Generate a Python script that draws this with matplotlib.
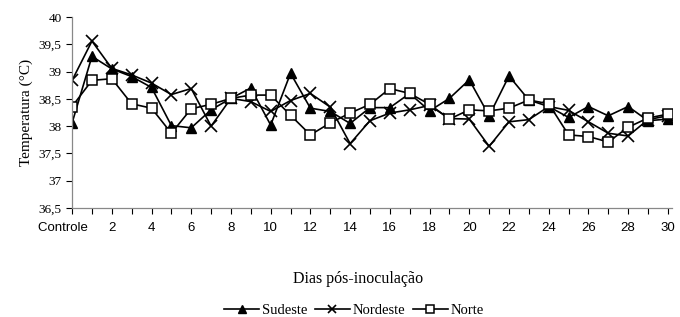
import matplotlib
matplotlib.use("Agg")
import matplotlib.pyplot as plt
from matplotlib.ticker import FixedLocator, FuncFormatter

days = list(range(0, 31))
xtick_pos = [0, 2, 4, 6, 8, 10, 12, 14, 16, 18, 20, 22, 24, 26, 28, 30]
xtick_labels = ["Controle"] + [str(d) for d in xtick_pos[1:]]

sudeste = [38.06, 39.28, 39.05, 38.91, 38.71, 38.01, 37.97, 38.30, 38.51, 38.70,
           38.02, 38.97, 38.33, 38.27, 38.05, 38.34, 38.34, 38.60, 38.28, 38.51,
           38.85, 38.19, 38.92, 38.48, 38.36, 38.16, 38.36, 38.19, 38.36, 38.10,
           38.13]
nordeste = [38.84, 39.56, 39.06, 38.94, 38.79, 38.58, 38.69, 38.00, 38.51, 38.45,
            38.27, 38.47, 38.60, 38.35, 37.68, 38.10, 38.24, 38.30, 38.38, 38.14,
            38.13, 37.63, 38.08, 38.12, 38.36, 38.29, 38.08, 37.87, 37.82, 38.12,
            38.19]
norte = [38.36, 38.84, 38.87, 38.41, 38.33, 37.87, 38.32, 38.40, 38.51, 38.57,
         38.57, 38.20, 37.84, 38.06, 38.24, 38.40, 38.69, 38.60, 38.40, 38.13,
         38.30, 38.28, 38.33, 38.48, 38.41, 37.84, 37.81, 37.71, 37.98, 38.15,
         38.22]

serif = "Liberation Serif"
sans = "Liberation Sans"

fig = plt.figure(figsize=(6.8, 3.17), dpi=100)
ax = fig.add_axes([0.106, 0.344, 0.882, 0.602])

line_kw = dict(color="black", linewidth=1.2)
ax.plot(days, sudeste, marker="^", markersize=7.5, markerfacecolor="black",
        markeredgecolor="black", label="Sudeste", **line_kw)
ax.plot(days, nordeste, marker="x", markersize=8.5, markeredgewidth=1.2,
        markeredgecolor="black", label="Nordeste", **line_kw)
ax.plot(days, norte, marker="s", markersize=7.5, markerfacecolor="white",
        markeredgecolor="black", markeredgewidth=1.1, label="Norte", **line_kw)

ax.set_xlim(0, 30.2)
ax.set_ylim(36.5, 40)
ax.set_xticks(xtick_pos)
# trailing blanks push "Controle" a bit left of its tick, as in the original
labels = [xtick_labels[0] + "     "] + xtick_labels[1:]
ax.set_xticklabels(labels, fontfamily=sans, fontsize=9.5)
ax.xaxis.set_minor_locator(FixedLocator(days))

ax.set_yticks([36.5, 37, 37.5, 38, 38.5, 39, 39.5, 40])
ax.yaxis.set_major_formatter(FuncFormatter(lambda v, p: ("%g" % v).replace(".", ",")))
for t in ax.get_yticklabels():
    t.set_fontfamily(serif)
    t.set_fontsize(9.5)

ax.tick_params(axis="x", which="both", direction="out", length=4, width=0.8, pad=6)
ax.tick_params(axis="y", direction="out", length=4, width=0.8)
for side in ["top", "right"]:
    ax.spines[side].set_visible(False)
for side in ["left", "bottom"]:
    ax.spines[side].set_color("#888888")
    ax.spines[side].set_linewidth(0.9)

ax.set_ylabel("Temperatura (°C)", fontfamily=serif, fontsize=11, labelpad=4)
ax.set_xlabel("Dias pós-inoculação", fontfamily=serif, fontsize=11.5)
ax.xaxis.set_label_coords(0.477, -0.33)

ax.legend(loc="center", bbox_to_anchor=(0.47, -0.535), ncol=3, frameon=False,
          prop={"family": serif, "size": 10.5}, handlelength=2.4, handletextpad=0.2,
          columnspacing=0.5, borderaxespad=0, markerscale=0.75)

fig.savefig("out.png", dpi=100)
